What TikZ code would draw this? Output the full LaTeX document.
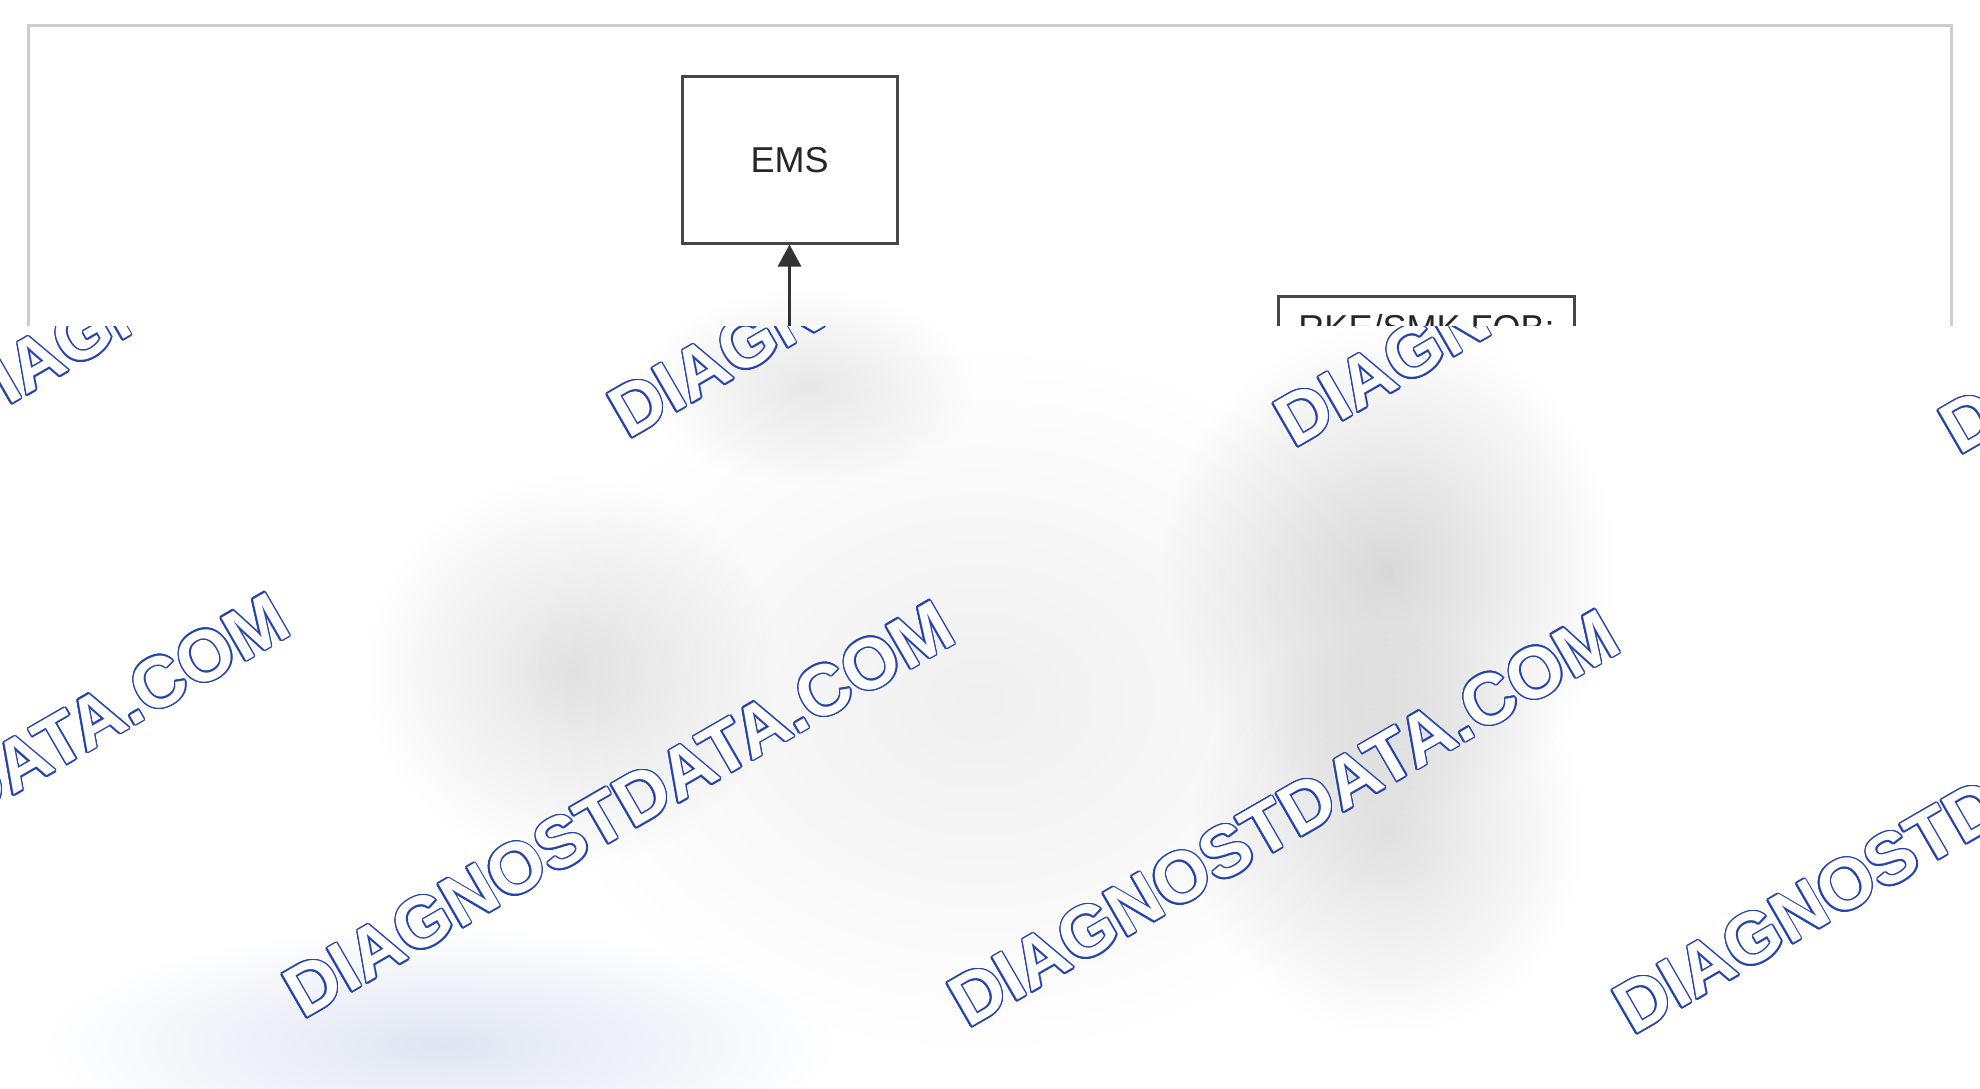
\documentclass[tikz,border=0pt]{standalone}
\usepackage{fontspec}
\setmainfont{Liberation Sans}
\usepackage{contour}
\usetikzlibrary{arrows.meta, calc}
\contourlength{1.5pt}
\definecolor{wmblue}{RGB}{38,68,172}
\definecolor{framegray}{RGB}{205,205,205}
\definecolor{boxgray}{RGB}{70,70,70}
\definecolor{bluish}{RGB}{224,229,242}
\tikzset{
  box/.style={draw=boxgray, line width=3pt, inner sep=0pt},
  txt/.style={font=\fontsize{36}{40}\selectfont, text=black!85},
  wmark/.style={anchor=base west, rotate=30, inner sep=0pt, font=\fontsize{72}{80}\selectfont\bfseries},
  blob/.style={blend mode=multiply, inner color=#1, outer color=white}
}
\begin{document}
\begin{tikzpicture}[x=1pt, y=-1pt]
\useasboundingbox (0,0) rectangle (1980,1089);
% outer frame
\draw[framegray, line width=3pt] (28,26) rectangle (1951,1075);

\node[box, txt, minimum width=215pt, minimum height=166pt] (ems) at (789.5,160) {EMS};
\node[box, txt, anchor=north west, minimum width=296pt, inner xsep=15pt, inner ysep=18pt,
  text height=26pt, text depth=200pt] (rke) at (1277,295) {RKE/SMK FOB:};

\coordinate (src) at (789.5,420);
\draw[line width=3pt, draw=black!80, -{Triangle[width=23pt, length=22pt]}] (src) -- (ems.south);

% blurred cover
\fill[white] (0,326) rectangle (1980,1089);
\shade[blob=black!6] (980,700) ellipse (460pt and 360pt);
\shade[blob=black!9] (808,385) ellipse (170pt and 100pt);
\shade[blob=black!15] (1390,570) ellipse (230pt and 250pt);
\shade[blob=black!11] (570,670) ellipse (210pt and 200pt);
\shade[blob=black!12] (1390,830) ellipse (200pt and 210pt);
\shade[blob=bluish] (440,1045) ellipse (400pt and 120pt);

\begin{scope}
\clip (0,326) rectangle (1980,1089);
\foreach \x/\y in {-37/432, 628/440, 1294/449, 1959/456, -362/1012, 303/1020, 968/1029, 1633/1036}
  \node[wmark] at (\x,\y) {\contour{wmblue}{\textcolor{white}{DIAGNOSTDATA.COM}}};
\end{scope}
\end{tikzpicture}
\end{document}
